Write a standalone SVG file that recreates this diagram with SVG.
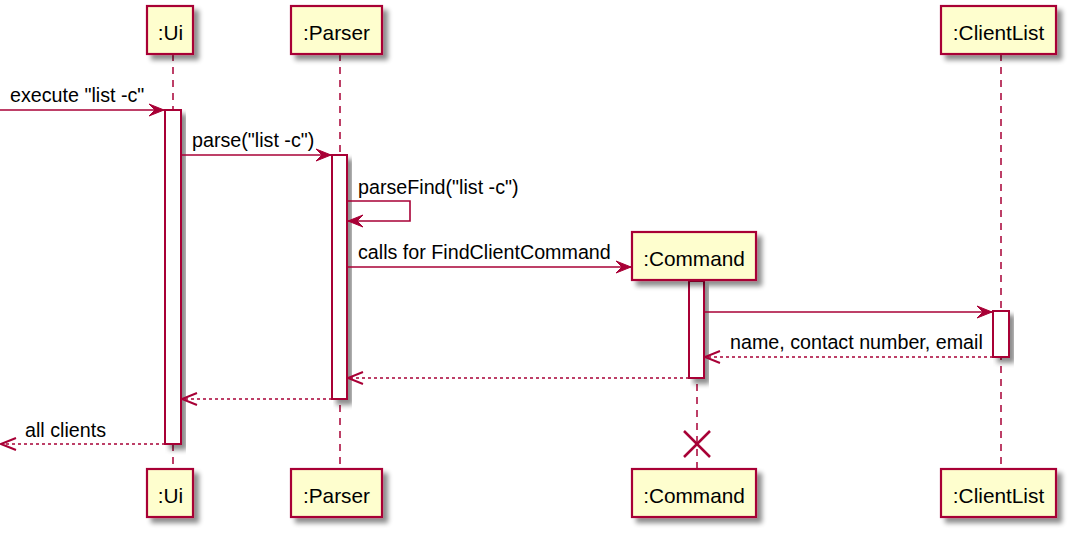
<svg xmlns="http://www.w3.org/2000/svg" width="1075" height="535" viewBox="0 0 1075 535">
<defs>
<filter id="sh" x="-20%" y="-20%" width="150%" height="150%">
<feGaussianBlur in="SourceAlpha" stdDeviation="2.5"/>
<feOffset dx="4.5" dy="4.5" result="b"/>
<feComponentTransfer><feFuncA type="linear" slope="0.45"/></feComponentTransfer>
<feMerge><feMergeNode/><feMergeNode in="SourceGraphic"/></feMerge>
</filter>
<marker id="fa" viewBox="-16 -7 17 14" refX="0" refY="0" markerWidth="17" markerHeight="14" markerUnits="userSpaceOnUse" orient="auto">
<polygon points="-15,-6 0,0 -15,6 -9,0" fill="#A80036" stroke="#A80036" stroke-width="1"/>
</marker>
<marker id="oa" viewBox="-17 -8 19 16" refX="0" refY="0" markerWidth="19" markerHeight="16" markerUnits="userSpaceOnUse" orient="auto">
<polyline points="-15,-6 0,0 -15,6" fill="none" stroke="#A80036" stroke-width="2"/>
</marker>
</defs>
<style>
.box{fill:#FEFECE;stroke:#A80036;stroke-width:2.2;filter:url(#sh)}
.act{fill:#FFFFFF;stroke:#A80036;stroke-width:2;filter:url(#sh)}
.life{stroke:#A80036;stroke-width:1.5;stroke-dasharray:7,6;fill:none}
.pt{font-family:"Liberation Sans",Arial,sans-serif;font-size:20.8px;fill:#000;text-anchor:middle}
.mt{font-family:"Liberation Sans",Arial,sans-serif;font-size:19.7px;fill:#000}
.msg{stroke:#A80036;stroke-width:1.6;fill:none}
.sync{marker-end:url(#fa)}
.ret{stroke-dasharray:3,3;marker-end:url(#oa)}
</style>
<rect width="1075" height="535" fill="#FFFFFF"/>
<g id="ui">
<line class="life" x1="173" y1="54" x2="173" y2="469"/>
<rect class="act" x="165" y="110" width="16" height="334"/>
<rect class="box" x="147" y="6" width="46" height="48"/>
<text class="pt" x="170.5" y="40">:Ui</text>
<rect class="box" x="147" y="469" width="46" height="48"/>
<text class="pt" x="170.5" y="503">:Ui</text>
</g>
<g id="parser">
<line class="life" x1="340" y1="54" x2="340" y2="469"/>
<rect class="act" x="332" y="155" width="15" height="244"/>
<rect class="box" x="291" y="6" width="91" height="48"/>
<text class="pt" x="336.5" y="40">:Parser</text>
<rect class="box" x="291" y="469" width="91" height="48"/>
<text class="pt" x="336.5" y="503">:Parser</text>
</g>
<g id="command">
<line class="life" x1="697" y1="280" x2="697" y2="469"/>
<rect class="act" x="689" y="281" width="15" height="97"/>
<rect class="box" x="632" y="232" width="124" height="48"/>
<text class="pt" x="694" y="265.5">:Command</text>
<g stroke="#A80036" stroke-width="2.5"><line x1="684" y1="431" x2="710" y2="457"/><line x1="710" y1="431" x2="684" y2="457"/></g>
<rect class="box" x="632" y="469" width="124" height="48"/>
<text class="pt" x="694" y="503">:Command</text>
</g>
<g id="clientlist">
<line class="life" x1="1001" y1="54" x2="1001" y2="469"/>
<rect class="act" x="993" y="311" width="16" height="46"/>
<rect class="box" x="941" y="6" width="115" height="48"/>
<text class="pt" x="998.5" y="40">:ClientList</text>
<rect class="box" x="941" y="469" width="115" height="48"/>
<text class="pt" x="998.5" y="503">:ClientList</text>
</g>
<g id="connectors">
<line class="msg sync" x1="0" y1="110" x2="164" y2="110"/>
<text class="mt" x="10" y="102">execute "list -c"</text>
<line class="msg sync" x1="181" y1="155" x2="331" y2="155"/>
<text class="mt" x="192" y="147">parse("list -c")</text>
<polyline class="msg sync" points="347,201 410,201 410,221 348,221"/>
<text class="mt" x="358" y="194">parseFind("list -c")</text>
<line class="msg sync" x1="347" y1="267" x2="631" y2="267"/>
<text class="mt" x="358" y="259">calls for FindClientCommand</text>
<line class="msg sync" x1="704" y1="312" x2="992" y2="312"/>
<line class="msg ret" x1="993" y1="357" x2="705" y2="357"/>
<text class="mt" x="730" y="349">name, contact number, email</text>
<line class="msg ret" x1="689" y1="378" x2="348" y2="378"/>
<line class="msg ret" x1="332" y1="399" x2="182" y2="399"/>
<line class="msg ret" x1="165" y1="444" x2="1" y2="444"/>
<text class="mt" x="25" y="437">all clients</text>
</g>
</svg>
